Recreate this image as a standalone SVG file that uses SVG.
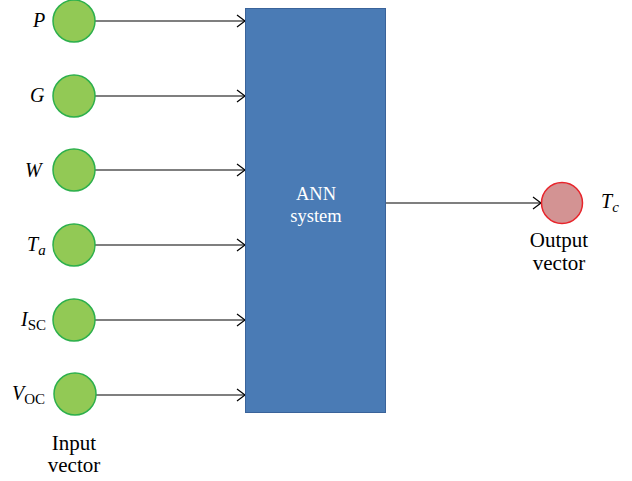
<svg xmlns="http://www.w3.org/2000/svg" width="632" height="481" viewBox="0 0 632 481">
<defs>
<style>
.in{fill:#92c955;stroke:#2db04c;stroke-width:1.5}
.out{fill:#d39393;stroke:#e8242b;stroke-width:1.5}
.lbl{font-family:"Liberation Serif",serif;font-size:20px;fill:#000}
.it{font-style:italic}
.sub{font-size:15px}
.cap{font-family:"Liberation Serif",serif;font-size:21px;fill:#000;text-anchor:middle}
.wire{stroke:#000;stroke-width:1.2;fill:none}
</style>
<marker id="arr" markerWidth="12" markerHeight="14" refX="11" refY="7" orient="auto" markerUnits="userSpaceOnUse">
<path d="M3,1 L11,7 L3,13" fill="none" stroke="#000" stroke-width="1.2"/>
</marker>
</defs>
<rect width="632" height="481" fill="#fff"/>
<g id="connectors">
<line class="wire" x1="95" y1="21" x2="245" y2="21" marker-end="url(#arr)"/>
<line class="wire" x1="95" y1="96" x2="245" y2="96" marker-end="url(#arr)"/>
<line class="wire" x1="95" y1="170" x2="245" y2="170" marker-end="url(#arr)"/>
<line class="wire" x1="95" y1="245" x2="245" y2="245" marker-end="url(#arr)"/>
<line class="wire" x1="95" y1="320" x2="245" y2="320" marker-end="url(#arr)"/>
<line class="wire" x1="96" y1="395" x2="245" y2="395" marker-end="url(#arr)"/>
<line class="wire" x1="386" y1="203" x2="541" y2="203" marker-end="url(#arr)"/>
</g>
<g id="ann">
<rect x="245.5" y="8.5" width="140" height="404" fill="#4a7bb5" stroke="#3a639a" stroke-width="1"/>
<text x="316" y="200" font-family="Liberation Serif,serif" font-size="18.5" fill="#fff" text-anchor="middle">ANN</text>
<text x="316" y="222" font-family="Liberation Serif,serif" font-size="18.5" fill="#fff" text-anchor="middle">system</text>
</g>
<g id="in-P"><circle class="in" cx="74" cy="21" r="21"/><text class="lbl it" x="33" y="27">P</text></g>
<g id="in-G"><circle class="in" cx="74" cy="96" r="21"/><text class="lbl it" x="30" y="102">G</text></g>
<g id="in-W"><circle class="in" cx="74" cy="170" r="21"/><text class="lbl it" x="25" y="177">W</text></g>
<g id="in-Ta"><circle class="in" cx="74" cy="245" r="21"/><text class="lbl it" x="27" y="251">T<tspan class="sub" dy="4">a</tspan></text></g>
<g id="in-Isc"><circle class="in" cx="74" cy="320" r="21"/><text class="lbl it" x="21" y="326">I<tspan class="sub" font-style="normal" dy="4">SC</tspan></text></g>
<g id="in-Voc"><circle class="in" cx="75" cy="394" r="21"/><text class="lbl it" x="12" y="400">V<tspan class="sub" font-style="normal" dy="4">OC</tspan></text></g>
<g id="in-caption"><text class="cap" x="74" y="450">Input</text><text class="cap" x="74" y="472">vector</text></g>
<g id="out-Tc"><circle class="out" cx="562" cy="203" r="20.5"/><text class="lbl it" x="601" y="208">T<tspan class="sub" dy="4">c</tspan></text></g>
<g id="out-caption"><text class="cap" x="559" y="247">Output</text><text class="cap" x="559" y="270">vector</text></g>
</svg>
